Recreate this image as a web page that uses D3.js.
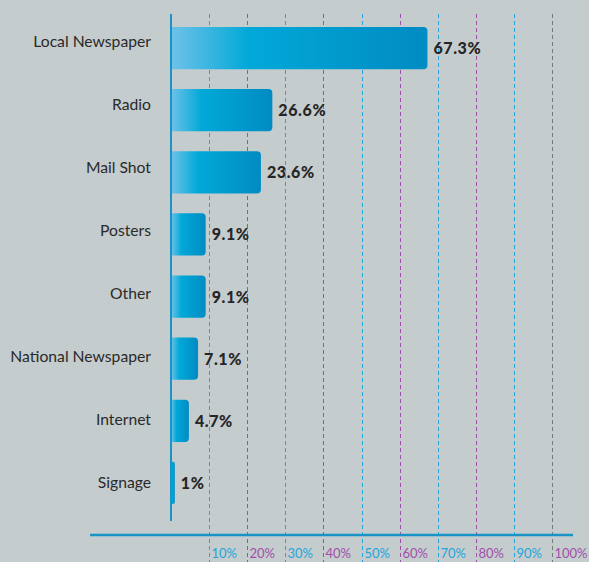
<!DOCTYPE html>
<html>
<head>
<meta charset="utf-8">
<script src="https://cdnjs.cloudflare.com/ajax/libs/d3/7.8.5/d3.min.js"></script>
<style>
  html, body { margin: 0; padding: 0; background: #c5cccd; }
  svg { display: block; }
</style>
</head>
<body>
<div class="chart"></div>
<script>
'use strict';

// Data
var categories = ['Local Newspaper', 'Radio', 'Mail Shot', 'Posters', 'Other',
                  'National Newspaper', 'Internet', 'Signage'];
var values     = [67.3, 26.6, 23.6, 9.1, 9.1, 7.1, 4.7, 1];
var valueLabels = ['67.3%', '26.6%', '23.6%', '9.1%', '9.1%', '7.1%', '4.7%', '1%'];
var tickValues = [10, 20, 30, 40, 50, 60, 70, 80, 90, 100];

var width  = 589,
    height = 562;

var blue   = '#22a6dc',
    purple = '#a050aa',
    grey   = '#75797b';

var svg = d3.select('.chart')
  .append('svg')
  .attr('width', width)
  .attr('height', height);

svg.append('rect')
  .attr('width', width)
  .attr('height', height)
  .attr('fill', '#c5cccd');

var x = d3.scaleLinear().domain([0, 100]).range([171, 552]);
var y = d3.scaleBand().domain(categories).range([27, 504]).paddingInner(0.32);
var yLabel = d3.scalePoint().domain(categories).range([42, 483]);

// Gradient for bars
var defs = svg.append('defs');
var grad = defs.append('linearGradient')
  .attr('id', 'barGrad')
  .attr('x1', '0%').attr('x2', '100%')
  .attr('y1', '0%').attr('y2', '0%');
grad.append('stop').attr('offset', '0%').attr('stop-color', '#6fc2e8');
grad.append('stop').attr('offset', '30%').attr('stop-color', '#02a9d8');
grad.append('stop').attr('offset', '100%').attr('stop-color', '#008bc3');

function gridColor(d) {
  if (d === 100) return grey;
  return (d / 10) % 2 === 1 ? blue : purple;
}
function tickColor(d) {
  return (d / 10) % 2 === 1 ? blue : purple;
}
function crisp(v) { return Math.round(v) + 0.5; }

// Grid lines
svg.append('g')
  .selectAll('line')
  .data(tickValues).enter()
  .append('line')
    .attr('x1', function(d) { return crisp(x(d)); })
    .attr('x2', function(d) { return crisp(x(d)); })
    .attr('y1', 14)
    .attr('y2', height)
    .attr('stroke', gridColor)
    .attr('stroke-width', 1)
    .attr('stroke-dasharray', '4,3');

// Bars (rounded on the right end)
function barPath(d, i) {
  var x0 = x(0), x1 = x(d), y0 = y(categories[i]), h = y.bandwidth();
  var r = Math.min(4, (x1 - x0) / 2);
  return 'M' + x0 + ',' + y0 +
         'H' + (x1 - r) +
         'Q' + x1 + ',' + y0 + ' ' + x1 + ',' + (y0 + r) +
         'V' + (y0 + h - r) +
         'Q' + x1 + ',' + (y0 + h) + ' ' + (x1 - r) + ',' + (y0 + h) +
         'H' + x0 + 'Z';
}

svg.append('g')
  .selectAll('path')
  .data(values).enter()
  .append('path')
    .attr('d', barPath)
    .attr('fill', 'url(#barGrad)');

// Value labels
svg.append('g')
  .selectAll('text')
  .data(values).enter()
  .append('text')
    .attr('x', function(d) { return x(d) + 6; })
    .attr('y', function(d, i) { return y(categories[i]) + y.bandwidth() / 2 + 6; })
    .attr('font-family', 'Lato, sans-serif')
    .attr('font-weight', 900)
    .attr('font-size', 16)
    .attr('letter-spacing', 0.6)
    .attr('fill', '#262626')
    .text(function(d, i) { return valueLabels[i]; });

// Category labels
svg.append('g')
  .selectAll('text')
  .data(categories).enter()
  .append('text')
    .attr('x', 151)
    .attr('y', function(d) { return yLabel(d) + 5; })
    .attr('text-anchor', 'end')
    .attr('font-family', 'Lato, sans-serif')
    .attr('font-size', 15.7)
    .attr('fill', '#2a2a2a')
    .text(function(d) { return d; });

// Axes
svg.append('line')
  .attr('x1', x(0)).attr('x2', x(0))
  .attr('y1', 14).attr('y2', 521)
  .attr('stroke', '#1894c8')
  .attr('stroke-width', 2);

svg.append('line')
  .attr('x1', 90).attr('x2', 573)
  .attr('y1', 535).attr('y2', 535)
  .attr('stroke', '#1894c8')
  .attr('stroke-width', 2.5);

// Tick labels
svg.append('g')
  .selectAll('text')
  .data(tickValues).enter()
  .append('text')
    .attr('x', function(d) { return crisp(x(d)) + 2; })
    .attr('y', 558)
    .attr('font-family', 'Lato, sans-serif')
    .attr('font-size', 13)
    .attr('fill', tickColor)
    .text(function(d) { return d + '%'; });
</script>
</body>
</html>
